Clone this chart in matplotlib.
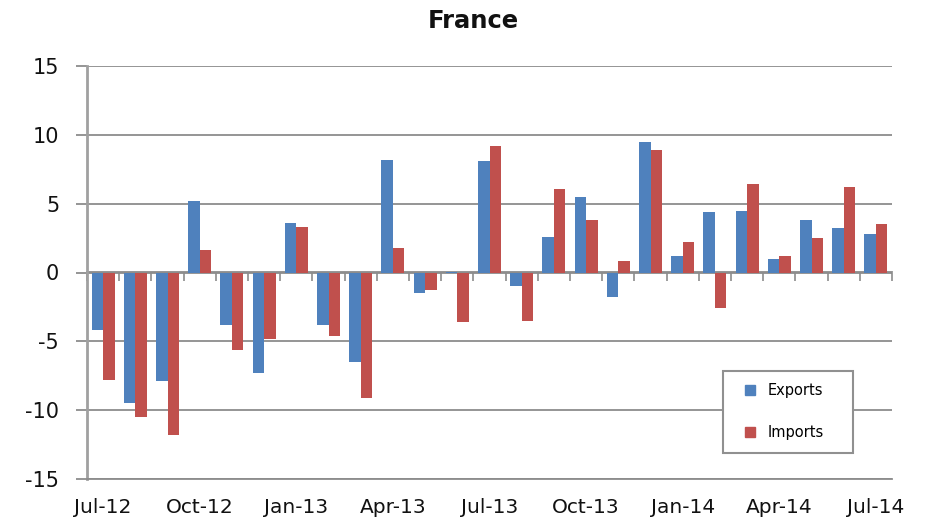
import numpy as np
import matplotlib
matplotlib.use("Agg")
import matplotlib.pyplot as plt
from matplotlib.lines import Line2D

months = ["Jul-12", "Aug-12", "Sep-12", "Oct-12", "Nov-12", "Dec-12",
          "Jan-13", "Feb-13", "Mar-13", "Apr-13", "May-13", "Jun-13",
          "Jul-13", "Aug-13", "Sep-13", "Oct-13", "Nov-13", "Dec-13",
          "Jan-14", "Feb-14", "Mar-14", "Apr-14", "May-14", "Jun-14", "Jul-14"]
exports = [-4.2, -9.5, -7.9, 5.2, -3.8, -7.3,
           3.6, -3.8, -6.5, 8.2, -1.5, 0.05,
           8.1, -1.0, 2.6, 5.5, -1.8, 9.5,
           1.2, 4.4, 4.5, 1.0, 3.8, 3.2, 2.8]
imports = [-7.8, -10.5, -11.8, 1.6, -5.6, -4.8,
           3.3, -4.6, -9.1, 1.8, -1.3, -3.6,
           9.2, -3.5, 6.1, 3.8, 0.8, 8.9,
           2.2, -2.6, 6.4, 1.2, 2.5, 6.2, 3.5]
yticks = [-15, -10, -5, 0, 5, 10, 15]
label_idx = list(range(0, len(months), 3))

blue = "#4F81BD"
red = "#C0504D"
grey = "#8C8C8C"

fig = plt.figure(figsize=(9.3, 5.2), dpi=100)
ax = fig.add_axes([87/930, 41/520, 805/930, 413/520])

x = np.arange(len(months))
w = 0.36
ax.bar(x - w/2, exports, width=w, color=blue, zorder=3, label="Exports")
ax.bar(x + w/2, imports, width=w, color=red, zorder=3, label="Imports")

ax.set_xlim(-0.5, len(months) - 0.5)
ax.set_ylim(-15, 15)
ax.set_yticks(yticks)
ax.set_yticklabels([str(v) for v in yticks])
ax.yaxis.grid(True, color=grey, lw=1.3, zorder=0)
ax.set_axisbelow(True)

for s in ["top", "right"]:
    ax.spines[s].set_visible(False)
ax.spines["left"].set_color("#A0A0A0")
ax.spines["left"].set_linewidth(2)
ax.spines["bottom"].set_color(grey)
ax.spines["bottom"].set_linewidth(1.3)

ax.tick_params(axis="y", direction="out", length=8, width=1.3, color=grey,
               labelsize=15, pad=12, labelcolor="#111111")
ax.set_xticks(label_idx)
ax.set_xticklabels([months[i] for i in label_idx])
ax.tick_params(axis="x", length=0, labelsize=14.5, pad=14, labelcolor="#111111")

sec = ax.secondary_xaxis(0.5)
sec.set_xticks(np.arange(len(months) + 1) - 0.5)
sec.set_xticklabels([])
sec.tick_params(axis="x", which="both", top=False, bottom=True,
                labeltop=False, labelbottom=False,
                direction="out", length=6, width=1.2, color=grey)
for s in sec.spines.values():
    s.set_color(grey)
    s.set_linewidth(1.3)

handles = [Line2D([], [], marker="s", ls="", color=blue, markersize=7),
           Line2D([], [], marker="s", ls="", color=red, markersize=7)]
leg = ax.legend(handles, ["Exports", "Imports"], loc="center",
                bbox_to_anchor=(0.781, 0.065, 0.18, 0.1965), mode="expand",
                fontsize=10.5, labelspacing=1.9, handlelength=2.0,
                handletextpad=0.2, borderpad=0.83, fancybox=False,
                framealpha=1, edgecolor="#909090")
leg.get_frame().set_linewidth(1.5)

fig.text(473/930, 1 - 21/520, "France", ha="center", va="center",
         fontsize=17.5, fontweight="bold", color="#111111")

fig.savefig("out.png", dpi=100)
